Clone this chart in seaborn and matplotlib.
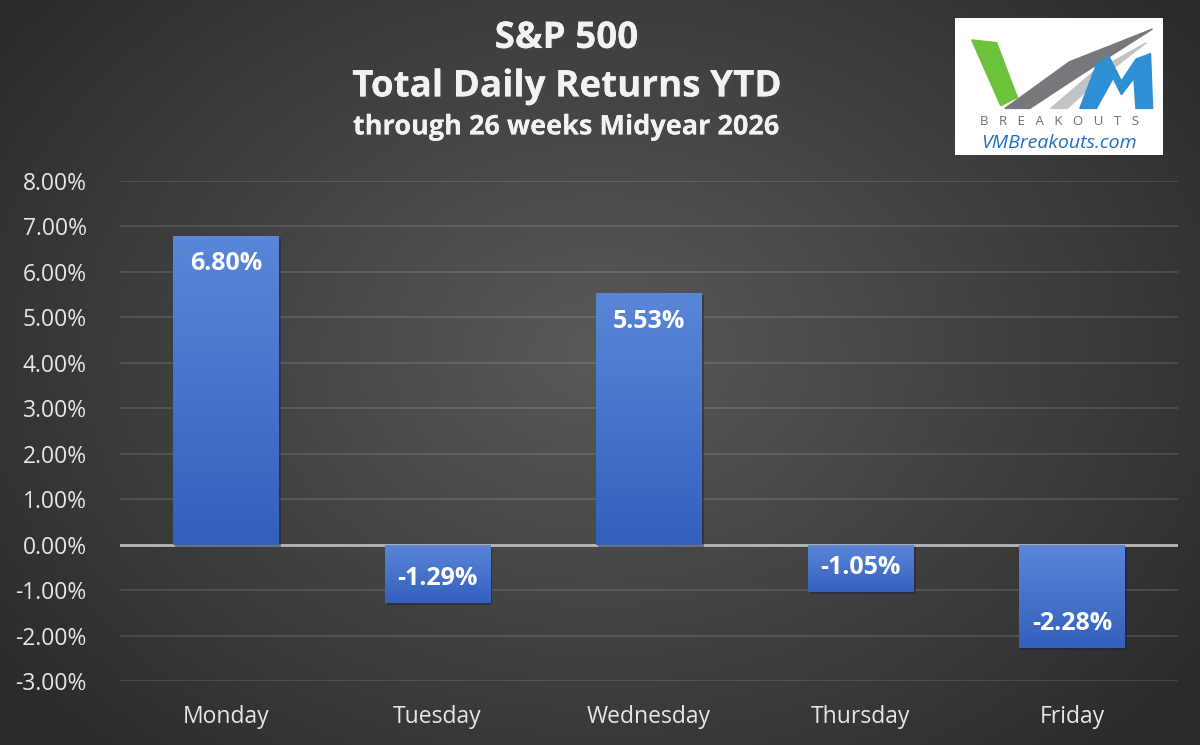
import numpy as np
import pandas as pd
import matplotlib
matplotlib.use("Agg")
import matplotlib.pyplot as plt
import matplotlib.patheffects as pe
from matplotlib.patches import Polygon, Rectangle
import seaborn as sns

# 데이터
days = ["Monday", "Tuesday", "Wednesday", "Thursday", "Friday"]
returns = [6.80, -1.29, 5.53, -1.05, -2.28]
y_ticks = [-3, -2, -1, 0, 1, 2, 3, 4, 5, 6, 7, 8]

df = pd.DataFrame({"day": days, "ret": returns})

sns.set_theme(style="dark")
plt.rcParams["font.family"] = ["Open Sans", "DejaVu Sans"]

fig = plt.figure(figsize=(12, 7.45), dpi=100)

# 배경 (radial gradient)
bg = fig.add_axes([0, 0, 1, 1], zorder=-10)
yy, xx = np.mgrid[0:745, 0:1200]
r = np.sqrt(((xx - 600) / 700) ** 2 + ((yy - 350) / 520) ** 2)
shade = np.clip(0.35 - 0.17 * r, 0.17, 0.35)
bg.imshow(np.dstack([shade, shade, shade]), aspect="auto", extent=[0, 1, 0, 1])
bg.set_axis_off()

ax = fig.add_axes([0.1, 0.0859, 0.8817, 0.6711])
ax.set_facecolor("none")
sns.barplot(data=df, x="day", y="ret", color="#4472c4", width=0.5,
            saturation=1, linewidth=0, edgecolor="none", ax=ax, zorder=3)

# 막대 gradient
grad = np.linspace(0, 1, 100).reshape(-1, 1)
cmap = matplotlib.colors.LinearSegmentedColormap.from_list("bar", ["#3460bd", "#5a86d8"])
for p in ax.patches:
    x0, y0 = p.get_x(), p.get_y()
    w, h = p.get_width(), p.get_height()
    lo, hi = min(y0, y0 + h), max(y0, y0 + h)
    im = ax.imshow(grad, cmap=cmap, aspect="auto", origin="lower",
                   extent=[x0, x0 + w, lo, hi], zorder=4)
    im.set_clip_path(p)
    p.set_path_effects([pe.withSimplePatchShadow(offset=(1.5, -1.5), alpha=0.45)])

ax.set_xlim(-0.5, 4.5)
ax.set_ylim(-3, 8)
ax.set_yticks(y_ticks)
ax.set_yticklabels([f"{t:.2f}%" for t in y_ticks])
ax.grid(axis="y", color="white", alpha=0.13, linewidth=1.3, zorder=0)
ax.axhline(0, color="#b8b8b8", linewidth=2, zorder=2)
ax.set_xlabel("")
ax.set_ylabel("")
for s in ax.spines.values():
    s.set_visible(False)
ax.tick_params(axis="both", colors="#e6e6e6", labelsize=16.5, length=0)
ax.tick_params(axis="y", pad=24)
ax.tick_params(axis="x", pad=17)

# 데이터 라벨
for i, v in enumerate(returns):
    ypos = v - 0.62 if v > 0 else v + 0.55
    ax.text(i, ypos, f"{v:.2f}%", ha="center", va="center", color="white",
            fontsize=18, fontweight="bold", zorder=6)

# 제목
for txt, yv, fs in [("S&P 500", 0.949, 26.5),
                    ("Total Daily Returns YTD", 0.884, 26.5),
                    ("through 26 weeks Midyear 2026", 0.829, 19.5)]:
    t = fig.text(0.472, yv, txt, ha="center", va="center", color="#f2f2f2",
                 fontsize=fs, fontweight="bold")
    t.set_path_effects([pe.withSimplePatchShadow(offset=(2, -2), alpha=0.5),
                        pe.Normal()])

# 로고
lg = fig.add_axes([955 / 1200, 1 - 155 / 745, 208 / 1200, 137 / 745])
lg.set_xlim(0, 1)
lg.set_ylim(0, 1)
lg.add_patch(Rectangle((0, 0), 1, 1, color="white"))
lg.add_patch(Polygon([[0.08, 0.84], [0.2, 0.82], [0.3, 0.42], [0.22, 0.36]],
                     closed=True, color="#6cc23a"))
lg.add_patch(Polygon([[0.24, 0.34], [0.36, 0.34], [0.6, 0.58], [0.95, 0.92],
                      [0.55, 0.68]], closed=True, color="#77787b"))
lg.add_patch(Polygon([[0.46, 0.34], [0.54, 0.34], [0.7, 0.56], [0.92, 0.82],
                      [0.66, 0.6]], closed=True, color="#c2c3c5"))
lg.add_patch(Polygon([[0.6, 0.34], [0.68, 0.34], [0.76, 0.56], [0.8, 0.44], [0.86, 0.56],
                      [0.87, 0.34], [0.95, 0.34], [0.94, 0.74], [0.87, 0.7],
                      [0.8, 0.54], [0.74, 0.72], [0.68, 0.66]],
                     closed=True, color="#2e8fd4"))
lg.text(0.5, 0.245, "B   R   E   A   K   O   U   T   S", ha="center", va="center",
        fontsize=9.5, color="#6d6e70")
lg.text(0.5, 0.09, "VMBreakouts.com", ha="center", va="center", fontsize=14,
        color="#1f6fc1", style="italic")
lg.set_axis_off()

fig.savefig("out.png", dpi=100)
